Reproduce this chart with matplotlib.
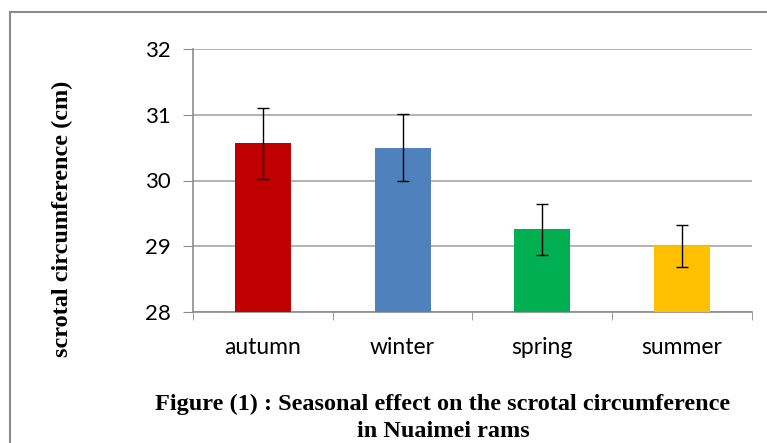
import matplotlib
matplotlib.use('Agg')
import matplotlib.pyplot as plt
from matplotlib.patches import Rectangle
import numpy as np

# data
seasons = ['autumn', 'winter', 'spring', 'summer']
means = [30.57, 30.50, 29.26, 29.01]
errors = [0.54, 0.51, 0.39, 0.32]
colors = ['#c00000', '#4f81bd', '#00b050', '#ffc000']
y_ticks = [28, 29, 30, 31, 32]

fig = plt.figure(figsize=(7.67, 4.43), dpi=100)

# outer frame of the chart box
fig.patches.append(Rectangle((10 / 767, -0.1), 1.2, 1 - 12 / 443 + 0.1,
                             transform=fig.transFigure, fill=False,
                             edgecolor='#8c8c8c', linewidth=1.5))

ax = fig.add_axes([193 / 767, 1 - 312 / 443, 559 / 767, 263 / 443])
x = np.arange(len(seasons))
ax.bar(x, [m - 28 for m in means], bottom=28, width=0.4, color=colors, zorder=3)
ax.errorbar(x, means, yerr=errors, fmt='none', ecolor='black', elinewidth=1,
            capsize=4, capthick=1, zorder=4)

ax.set_xlim(-0.5, len(seasons) - 0.5)
ax.set_ylim(28, 32)
ax.set_yticks(y_ticks)
ax.set_yticklabels([str(t) for t in y_ticks], fontsize=16, family='Lato')
ax.yaxis.grid(True, color='#a6a6a6', linewidth=1.2, zorder=0)
ax.set_axisbelow(True)

# category labels between boundary ticks
ax.set_xticks(x)
ax.set_xticklabels(seasons, fontsize=16.5, family='Lato')
ax.tick_params(axis='x', which='major', length=0, pad=18)
ax.set_xticks(np.arange(-0.5, len(seasons)), minor=True)
ax.tick_params(axis='x', which='minor', length=6, color='#8c8c8c', direction='out')
ax.tick_params(axis='y', length=7, color='#8c8c8c', pad=9)

for s in ['top', 'right']:
    ax.spines[s].set_visible(False)
for s in ['left', 'bottom']:
    ax.spines[s].set_color('#8c8c8c')
    ax.spines[s].set_linewidth(1.2)

fig.text(62 / 767, 1 - 219 / 443, 'scrotal circumference (cm)', rotation=90,
         ha='center', va='center', fontsize=17.5, fontweight='bold', family='Liberation Serif')

fig.text(443 / 767, 1 - 410 / 443, 'Figure (1) : Seasonal effect on the scrotal circumference',
         ha='center', va='baseline', fontsize=17.5, fontweight='bold', family='Liberation Serif')
fig.text(443 / 767, 1 - 437 / 443, 'in Nuaimei rams',
         ha='center', va='baseline', fontsize=17.5, fontweight='bold', family='Liberation Serif')

plt.savefig('out.png', dpi=100)
